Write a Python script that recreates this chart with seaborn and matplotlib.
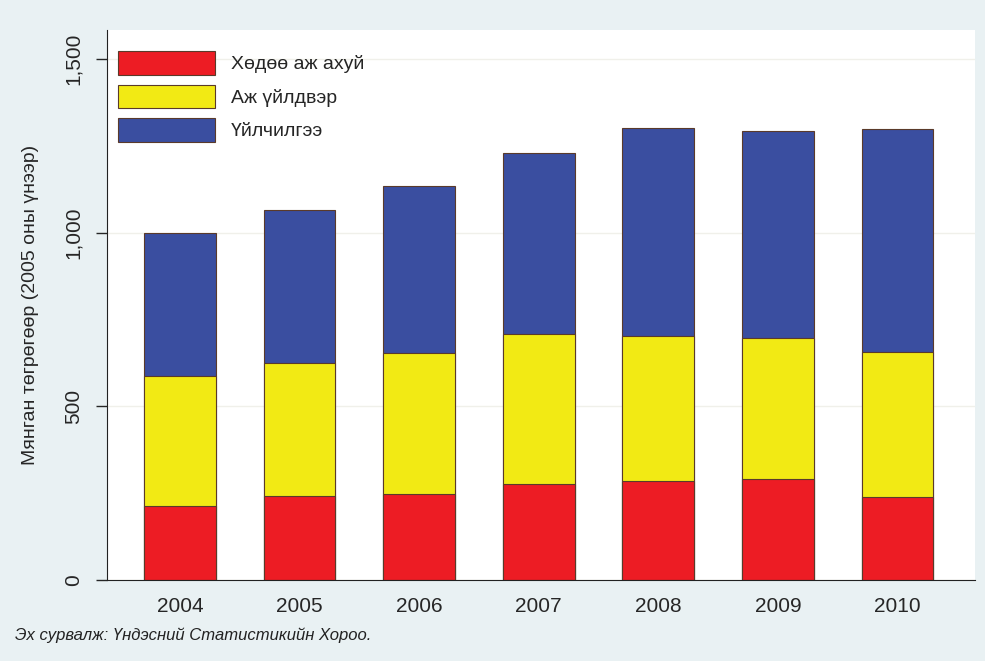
import numpy as np
import pandas as pd
import seaborn as sns
import matplotlib.pyplot as plt
from matplotlib.patches import Patch
from matplotlib.ticker import FuncFormatter

years = ['2004', '2005', '2006', '2007', '2008', '2009', '2010']
agri = [213, 242, 248, 277, 285, 291, 239]
industry = [375, 383, 406, 432, 418, 406, 418]
services = [412, 441, 481, 521, 599, 597, 643]
labels = ['Хөдөө аж ахуй', 'Аж үйлдвэр', 'Үйлчилгээ']
colors = ['#ed1c24', '#f2ea14', '#3a4ea0']

df = pd.DataFrame({'year': years, 'agri': agri, 'industry': industry, 'services': services})
df['lvl2'] = df['agri'] + df['industry']
df['lvl3'] = df['lvl2'] + df['services']

sns.set_style('white')
plt.rcParams['font.family'] = ['Liberation Sans', 'DejaVu Sans']

fig = plt.figure(figsize=(9.85, 6.61), dpi=100)
fig.patch.set_facecolor('#e9f1f3')
ax = fig.add_axes([0.1086, 0.1225, 0.8814, 0.8325])
ax.set_facecolor('white')

# stacked: draw totals first, then cover with lower parts
for col, c in zip(['lvl3', 'lvl2', 'agri'], colors[::-1]):
    sns.barplot(data=df, x='year', y=col, color=c, width=0.6, saturation=1,
                edgecolor='#5a3a2a', linewidth=0.8, ax=ax)

ax.set_xlim(-0.61, 6.65)
ax.set_ylim(0, 1585)
ax.set_yticks([0, 500, 1000, 1500])
ax.yaxis.set_major_formatter(FuncFormatter(lambda v, p: f'{int(v):,}'))
ax.tick_params(axis='y', labelrotation=90, labelsize=15, length=8, width=1,
               direction='out', left=True, pad=9)
ax.tick_params(axis='x', labelsize=15, length=0, pad=12)
for t in ax.get_yticklabels():
    t.set_va('center')
ax.grid(axis='y', color='#f0f0ea', linewidth=1)
ax.set_axisbelow(True)

sns.despine(ax=ax, top=True, right=True)
ax.spines['left'].set_color('#222222')
ax.spines['bottom'].set_color('#222222')

ax.set_xlabel('')
ax.set_ylabel('Мянган төгрөгөөр (2005 оны үнээр)', fontsize=14, labelpad=18)

handles = [Patch(facecolor=c, edgecolor='#5a3a2a', linewidth=0.8) for c in colors]
ax.legend(handles, labels, loc='upper left', frameon=False, fontsize=14,
          handlelength=5.0, handleheight=1.5, labelspacing=0.5,
          bbox_to_anchor=(-0.012, 1.0), borderaxespad=0.7, handletextpad=0.8)

fig.text(0.015, 0.032, 'Эх сурвалж: Үндэсний Статистикийн Хороо.', fontsize=12,
         style='italic', color='#222222')

fig.savefig('out.png', dpi=100, facecolor=fig.get_facecolor())
